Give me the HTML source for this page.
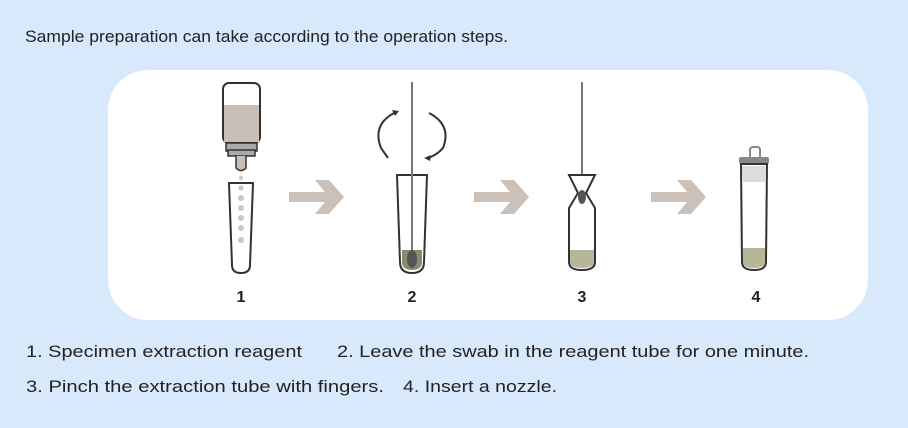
<!DOCTYPE html>
<html><head><meta charset="utf-8"><style>
html,body{margin:0;padding:0;background:#d9e9fc;}
svg{display:block;}
text{font-family:"Liberation Sans",sans-serif;fill:#222;}
</style></head><body>
<svg width="908" height="428" viewBox="0 0 908 428" xmlns="http://www.w3.org/2000/svg">
<rect width="908" height="428" fill="#d9e9fc"/>
<text x="25" y="42" font-size="17" textLength="483" lengthAdjust="spacingAndGlyphs">Sample preparation can take according to the operation steps.</text>
<rect x="108" y="70" width="760" height="250" rx="40" fill="#fff"/>

<!-- 1: bottle -->
<rect x="223" y="83" width="37" height="60" rx="6" fill="#fff" stroke="#333" stroke-width="2"/>
<rect x="224" y="105" width="35" height="37" fill="#c9bfb7"/>
<rect x="226" y="143" width="31" height="8" fill="#aaa" stroke="#333" stroke-width="1.5"/>
<rect x="228" y="150" width="27" height="6" fill="#aaa" stroke="#333" stroke-width="1.5"/>
<path d="M236 156 L236 168 Q241 173 246 168 L246 156" fill="#c9bfb7" stroke="#333" stroke-width="1.5"/>
<path d="M229 183 L232 265 Q232 273 241 273 Q250 273 250 265 L253 183 Z" fill="#fff" stroke="#333" stroke-width="2"/>
<g fill="#cfc6bd"><circle cx="241" cy="178" r="2"/><circle cx="241" cy="188" r="2.6"/><circle cx="241" cy="198" r="3"/><circle cx="241" cy="208" r="3"/><circle cx="241" cy="218" r="3"/><circle cx="241" cy="228" r="3"/><circle cx="241" cy="240" r="3"/></g>
<text x="241" y="302" font-size="16" font-weight="bold" text-anchor="middle" fill="#333">1</text>

<!-- arrows -->
<g fill="#cbc1b9">
<path d="M289 192 L325 192 L315 180 L329 180 L344 197 L329 214 L315 214 L325 202 L289 202 Z"/>
<path d="M474 192 L510 192 L500 180 L514 180 L529 197 L514 214 L500 214 L510 202 L474 202 Z"/>
<path d="M651 192 L687 192 L677 180 L691 180 L706 197 L691 214 L677 214 L687 202 L651 202 Z"/>
</g>

<!-- 2 -->
<path d="M397 175 L400 262 Q400 273 412 273 Q424 273 424 262 L427 175 Z" fill="#fff" stroke="#333" stroke-width="2"/>
<path d="M402 250 L402 262 Q402 270 412 270 Q422 270 422 262 L422 250 Z" fill="#8a8a70"/>
<rect x="411" y="82" width="2" height="186" fill="#777"/>
<ellipse cx="412" cy="259" rx="5" ry="9" fill="#555"/>
<path d="M394 113 Q372 125 381 148 L388 158" fill="none" stroke="#333" stroke-width="2"/>
<path d="M399 111 L392 110 L395 116Z" fill="#333"/>
<path d="M429 113 Q452 125 443 148 Q437 155 428 158" fill="none" stroke="#333" stroke-width="2"/>
<path d="M424 158 L431 155 L430 161Z" fill="#333"/>
<text x="412" y="302" font-size="16" font-weight="bold" text-anchor="middle" fill="#333">2</text>

<!-- 3 -->
<rect x="581" y="82" width="2" height="110" fill="#777"/>
<path d="M569 175 L595 175 L586 193 L595 208 L595 262 Q595 270 582 270 Q569 270 569 262 L569 208 L578 193 Z" fill="#fff" stroke="#333" stroke-width="2"/>
<path d="M570 250 L594 250 L594 262 Q594 268 582 268 Q570 268 570 262 Z" fill="#b8b698"/>
<ellipse cx="582" cy="197" rx="4" ry="7" fill="#555"/>
<text x="582" y="302" font-size="16" font-weight="bold" text-anchor="middle" fill="#333">3</text>

<!-- 4 -->
<path d="M750 157 L750 150 Q750 147 754 147 L757 147 Q760 147 760 150 L760 157" fill="#fff" stroke="#888" stroke-width="2"/>
<rect x="739" y="157" width="30" height="7" rx="2" fill="#888"/>
<path d="M741 164 L742 262 Q742 270 754 270 Q766 270 766 262 L767 164 Z" fill="#fff" stroke="#333" stroke-width="2"/>
<rect x="742" y="166" width="24" height="16" fill="#dcdcdc"/>
<path d="M743 248 L765 248 L765 262 Q765 268 754 268 Q743 268 743 262 Z" fill="#b8b698"/>
<text x="756" y="302" font-size="16" font-weight="bold" text-anchor="middle" fill="#333">4</text>

<text x="26" y="357" font-size="17" textLength="276" lengthAdjust="spacingAndGlyphs">1. Specimen extraction reagent</text>
<text x="337" y="357" font-size="17" textLength="472" lengthAdjust="spacingAndGlyphs">2. Leave the swab in the reagent tube for one minute.</text>
<text x="26" y="392" font-size="17" textLength="358" lengthAdjust="spacingAndGlyphs">3. Pinch the extraction tube with fingers.</text>
<text x="403" y="392" font-size="17" textLength="154" lengthAdjust="spacingAndGlyphs">4. Insert a nozzle.</text>
</svg>
</body></html>
